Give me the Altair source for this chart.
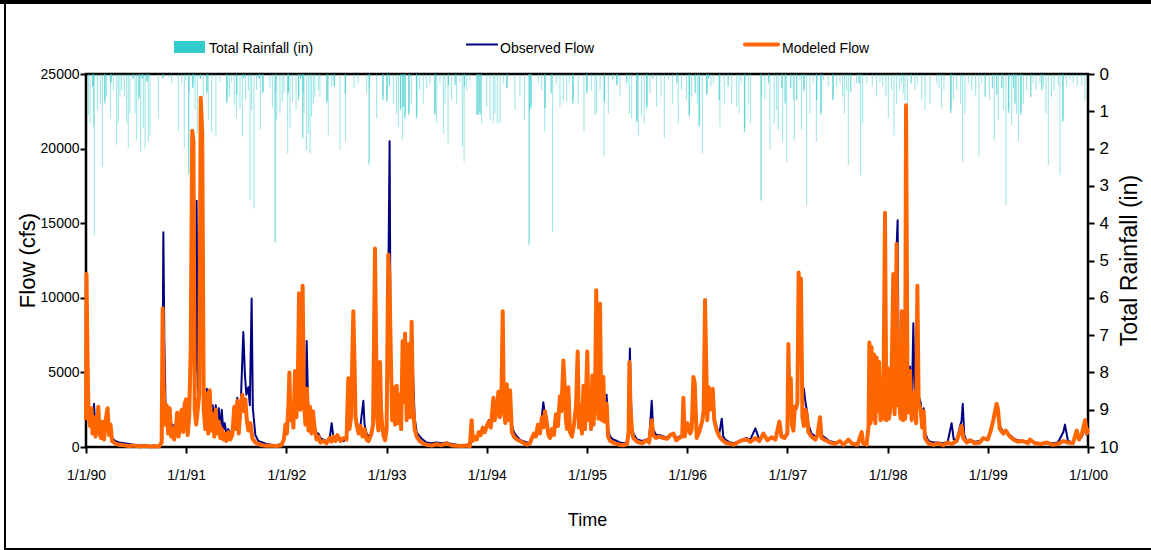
import altair as alt
import pandas as pd

# ---------------- data ----------------
# x values are decimal years
MODELED = [
(1990.000,1800),(1990.005,11600),(1990.015,6000),(1990.025,2200),(1990.040,1400),(1990.055,2600),(1990.065,900),(1990.080,2000),(1990.095,700),(1990.110,1600),(1990.123,2700),(1990.135,900),(1990.150,600),(1990.165,1700),(1990.180,500),(1990.200,2000),(1990.215,2600),(1990.230,800),(1990.245,1500),(1990.260,400),(1990.290,250),(1990.330,150),(1990.380,120),(1990.430,60),(1990.480,100),(1990.530,30),(1990.580,80),(1990.630,40),(1990.680,60),(1990.730,30),(1990.755,300),(1990.765,9300),(1990.775,4000),(1990.790,1500),(1990.805,2800),(1990.820,900),(1990.835,2600),(1990.850,700),(1990.865,1300),(1990.880,500),(1990.895,1100),(1990.910,2300),(1990.925,700),(1990.940,2100),(1990.955,2500),(1990.970,1000),(1990.985,2900),
(1991.000,3200),(1991.015,800),(1991.030,2100),(1991.045,6500),(1991.060,21200),(1991.072,20500),(1991.085,2500),(1991.100,1500),(1991.115,2500),(1991.130,3500),(1991.145,23400),(1991.160,21000),(1991.175,2500),(1991.190,1200),(1991.205,3600),(1991.220,900),(1991.235,3800),(1991.250,1100),(1991.265,2200),(1991.280,700),(1991.295,2500),(1991.310,900),(1991.325,1700),(1991.340,600),(1991.355,1200),(1991.370,500),(1991.385,900),(1991.400,400),(1991.420,1000),(1991.440,500),(1991.460,800),(1991.480,2700),(1991.495,1200),(1991.510,3100),(1991.525,900),(1991.545,2900),(1991.560,3500),(1991.575,2400),(1991.590,3200),(1991.605,1800),(1991.620,1100),(1991.640,1600),(1991.660,600),(1991.690,300),(1991.720,200),(1991.760,120),(1991.800,90),(1991.850,80),(1991.900,60),(1991.950,120),(1991.975,500),(1991.990,1500),
(1992.005,900),(1992.020,2800),(1992.030,5000),(1992.040,1800),(1992.055,2500),(1992.070,1300),(1992.086,5100),(1992.100,2000),(1992.115,4800),(1992.126,10300),(1992.140,2500),(1992.150,4000),(1992.162,10800),(1992.175,3000),(1992.190,1500),(1992.205,3900),(1992.220,1100),(1992.235,2700),(1992.250,900),(1992.265,2400),(1992.280,1300),(1992.300,500),(1992.320,700),(1992.340,300),(1992.370,400),(1992.400,250),(1992.430,600),(1992.450,350),(1992.470,700),(1992.490,400),(1992.510,800),(1992.540,400),(1992.570,600),(1992.600,500),(1992.618,4600),(1992.630,1200),(1992.645,2000),(1992.668,9100),(1992.680,5500),(1992.690,2000),(1992.701,1500),(1992.720,900),(1992.740,1400),(1992.760,700),(1992.780,1200),(1992.800,500),(1992.820,400),(1992.845,800),(1992.865,1500),(1992.884,13300),(1992.895,7000),(1992.905,2000),(1992.918,1100),(1992.934,5700),(1992.945,2500),(1992.955,1500),(1992.968,800),(1992.985,450),
(1993.000,1200),(1993.017,12900),(1993.028,11500),(1993.040,6900),(1993.055,1800),(1993.070,4000),(1993.085,1500),(1993.101,4100),(1993.115,1600),(1993.130,3500),(1993.145,1200),(1993.160,7100),(1993.172,3000),(1993.184,7600),(1993.200,1800),(1993.212,3000),(1993.224,6900),(1993.237,2000),(1993.250,8400),(1993.262,2900),(1993.280,1200),(1993.300,700),(1993.330,400),(1993.360,250),(1993.400,150),(1993.450,100),(1993.500,180),(1993.550,120),(1993.600,250),(1993.650,100),(1993.700,80),(1993.750,60),(1993.800,100),(1993.830,50),(1993.849,1800),(1993.860,400),(1993.880,700),(1993.900,500),(1993.920,1000),(1993.940,800),(1993.960,1300),(1993.980,1000),
(1994.000,1400),(1994.020,1700),(1994.040,1300),(1994.066,3300),(1994.080,1800),(1994.100,2500),(1994.116,3700),(1994.130,2000),(1994.145,3000),(1994.159,9100),(1994.170,2500),(1994.185,1600),(1994.199,4200),(1994.215,1800),(1994.232,3800),(1994.250,1000),(1994.270,700),(1994.300,500),(1994.330,400),(1994.360,300),(1994.400,150),(1994.431,250),(1994.450,600),(1994.470,900),(1994.490,700),(1994.510,1500),(1994.530,900),(1994.550,2000),(1994.564,1300),(1994.580,2400),(1994.600,1600),(1994.615,800),(1994.631,600),(1994.650,1200),(1994.670,800),(1994.690,2200),(1994.710,1400),(1994.730,3400),(1994.745,2400),(1994.764,5800),(1994.778,4000),(1994.790,1800),(1994.800,1200),(1994.814,4000),(1994.830,1000),(1994.850,700),(1994.870,1500),(1994.890,2700),(1994.907,6400),(1994.920,1300),(1994.935,2800),(1994.950,900),(1994.965,4100),(1994.980,1200),
(1995.003,6400),(1995.015,1800),(1995.030,3500),(1995.040,1200),(1995.053,4800),(1995.065,1500),(1995.080,3000),(1995.092,10500),(1995.105,6000),(1995.115,1900),(1995.130,9600),(1995.140,3500),(1995.150,1800),(1995.163,4700),(1995.175,1700),(1995.185,2500),(1995.196,2900),(1995.210,700),(1995.230,400),(1995.260,300),(1995.300,200),(1995.330,150),(1995.360,120),(1995.400,200),(1995.415,1000),(1995.423,5700),(1995.435,2500),(1995.450,1000),(1995.463,600),(1995.500,350),(1995.550,250),(1995.596,450),(1995.620,300),(1995.646,1800),(1995.660,800),(1995.690,600),(1995.720,700),(1995.763,600),(1995.800,550),(1995.830,800),(1995.863,900),(1995.890,450),(1995.920,600),(1995.950,700),(1995.962,3300),(1995.975,700),
(1996.002,1600),(1996.030,900),(1996.045,1200),(1996.062,4700),(1996.075,4300),(1996.095,600),(1996.120,1000),(1996.140,1500),(1996.152,1800),(1996.165,2500),(1996.178,9850),(1996.190,5500),(1996.200,1800),(1996.215,4000),(1996.228,2500),(1996.242,3500),(1996.255,3900),(1996.270,1800),(1996.295,1100),(1996.320,700),(1996.345,500),(1996.380,300),(1996.430,200),(1996.470,150),(1996.500,300),(1996.550,450),(1996.595,500),(1996.630,350),(1996.680,600),(1996.720,400),(1996.760,900),(1996.800,450),(1996.840,650),(1996.880,500),(1996.920,1700),(1996.940,700),(1996.970,600),
(1997.000,900),(1997.010,6900),(1997.022,2000),(1997.033,4600),(1997.045,1500),(1997.060,1100),(1997.075,2700),(1997.086,2600),(1997.100,3000),(1997.112,11700),(1997.122,10000),(1997.135,11300),(1997.150,2000),(1997.165,1400),(1997.180,2500),(1997.193,2200),(1997.210,1000),(1997.240,700),(1997.260,600),(1997.280,500),(1997.300,800),(1997.326,2000),(1997.340,600),(1997.380,450),(1997.425,300),(1997.470,200),(1997.525,400),(1997.560,150),(1997.608,500),(1997.650,200),(1997.700,150),(1997.741,1000),(1997.755,250),(1997.790,150),(1997.810,1400),(1997.818,7000),(1997.830,1600),(1997.840,6700),(1997.852,1900),(1997.865,6200),(1997.878,1600),(1997.890,6000),(1997.905,2400),(1997.915,5700),(1997.930,1800),(1997.945,4500),(1997.957,1900),(1997.974,15700),(1997.988,1800),
(1998.000,5300),(1998.014,1900),(1998.035,3000),(1998.057,11600),(1998.070,2200),(1998.090,13600),(1998.100,2800),(1998.112,3200),(1998.130,1900),(1998.141,9100),(1998.155,1800),(1998.165,8700),(1998.175,1900),(1998.184,22900),(1998.200,2300),(1998.215,4000),(1998.224,5100),(1998.240,1800),(1998.255,2900),(1998.270,3700),(1998.285,1600),(1998.297,10800),(1998.310,2900),(1998.330,2500),(1998.345,1300),(1998.360,2400),(1998.373,600),(1998.400,300),(1998.423,200),(1998.460,150),(1998.500,250),(1998.556,120),(1998.600,300),(1998.639,200),(1998.689,400),(1998.739,1400),(1998.755,600),(1998.790,300),(1998.822,450),(1998.870,250),(1998.920,300),(1998.955,600),
(1999.000,500),(1999.030,1100),(1999.055,1800),(1999.088,2900),(1999.100,2600),(1999.120,1200),(1999.155,900),(1999.180,1100),(1999.220,700),(1999.255,500),(1999.300,350),(1999.350,400),(1999.400,250),(1999.421,500),(1999.470,250),(1999.530,200),(1999.588,300),(1999.650,150),(1999.700,200),(1999.754,400),(1999.800,300),(1999.850,250),(1999.888,1100),(1999.910,500),(1999.940,900),(1999.971,1800),(1999.988,900),(2000.000,1300),
]

OBSERVED = [
(1990.000,2200),(1990.008,5300),(1990.020,3000),(1990.035,2400),(1990.050,2500),(1990.065,1300),(1990.080,2900),(1990.095,1000),(1990.110,1700),(1990.123,2300),(1990.135,1200),(1990.150,800),(1990.165,1600),(1990.180,700),(1990.200,1800),(1990.215,2300),(1990.230,1000),(1990.245,1300),(1990.260,600),(1990.290,400),(1990.330,300),(1990.380,250),(1990.430,200),(1990.480,150),(1990.530,120),(1990.580,100),(1990.630,80),(1990.680,70),(1990.730,60),(1990.760,500),(1990.772,14400),(1990.782,7000),(1990.795,2500),(1990.805,2600),(1990.820,1500),(1990.835,2400),(1990.850,1200),(1990.865,1500),(1990.880,900),(1990.895,1300),(1990.910,2100),(1990.925,1000),(1990.940,1900),(1990.955,2300),(1990.970,1300),(1990.985,2600),
(1991.000,3000),(1991.015,1200),(1991.030,2000),(1991.045,5800),(1991.060,15000),(1991.075,8000),(1991.092,5000),(1991.104,16500),(1991.115,4000),(1991.130,3200),(1991.140,12000),(1991.152,22000),(1991.165,18000),(1991.178,3000),(1991.190,2000),(1991.205,3900),(1991.220,1500),(1991.235,3500),(1991.250,1600),(1991.265,2800),(1991.280,1400),(1991.295,2800),(1991.310,1500),(1991.325,2600),(1991.340,1200),(1991.355,2500),(1991.370,1100),(1991.385,1600),(1991.400,900),(1991.420,1200),(1991.440,900),(1991.460,1100),(1991.480,2500),(1991.495,2000),(1991.510,3300),(1991.525,2000),(1991.545,3000),(1991.570,7700),(1991.585,5000),(1991.600,3500),(1991.620,4000),(1991.635,2800),(1991.653,9950),(1991.665,2600),(1991.690,800),(1991.720,400),(1991.760,300),(1991.800,200),(1991.850,150),(1991.900,120),(1991.950,200),(1991.975,400),(1991.990,1200),
(1992.005,1200),(1992.020,2600),(1992.030,4600),(1992.040,2200),(1992.055,2400),(1992.070,1800),(1992.086,4800),(1992.100,2500),(1992.115,4500),(1992.126,9500),(1992.140,3000),(1992.150,4200),(1992.162,9800),(1992.175,3500),(1992.190,2500),(1992.202,7100),(1992.220,2000),(1992.235,2600),(1992.250,1500),(1992.265,2300),(1992.280,1500),(1992.300,900),(1992.320,900),(1992.340,600),(1992.370,500),(1992.400,400),(1992.430,500),(1992.452,1600),(1992.470,600),(1992.490,500),(1992.510,500),(1992.540,600),(1992.570,400),(1992.600,500),(1992.618,4300),(1992.630,1500),(1992.645,1900),(1992.668,8500),(1992.680,5000),(1992.690,2200),(1992.701,1700),(1992.720,1200),(1992.740,1500),(1992.768,3100),(1992.780,1500),(1992.800,900),(1992.820,700),(1992.845,900),(1992.865,1500),(1992.884,12500),(1992.895,6500),(1992.905,2200),(1992.918,1500),(1992.934,5300),(1992.945,2600),(1992.955,1700),(1992.968,1000),(1992.985,700),
(1993.000,1300),(1993.017,11000),(1993.030,20500),(1993.040,6000),(1993.055,2000),(1993.070,3800),(1993.085,1800),(1993.101,3900),(1993.115,1900),(1993.130,3400),(1993.145,1500),(1993.160,6800),(1993.172,3200),(1993.184,7200),(1993.200,2200),(1993.212,3200),(1993.224,6600),(1993.237,2400),(1993.250,7000),(1993.262,5200),(1993.280,2000),(1993.300,1000),(1993.330,700),(1993.360,500),(1993.400,300),(1993.450,250),(1993.500,300),(1993.550,250),(1993.600,300),(1993.650,200),(1993.700,150),(1993.750,120),(1993.800,150),(1993.830,200),(1993.849,900),(1993.860,400),(1993.880,500),(1993.900,600),(1993.920,800),(1993.940,900),(1993.960,1100),(1993.980,1200),
(1994.000,1500),(1994.020,1800),(1994.040,1600),(1994.066,3000),(1994.080,2000),(1994.100,2600),(1994.116,3500),(1994.130,2200),(1994.145,3200),(1994.159,8000),(1994.170,3000),(1994.185,2000),(1994.199,4000),(1994.215,2200),(1994.232,3600),(1994.250,1500),(1994.270,1000),(1994.300,700),(1994.330,500),(1994.360,400),(1994.400,300),(1994.431,300),(1994.450,500),(1994.470,800),(1994.490,700),(1994.510,1300),(1994.530,1000),(1994.550,2100),(1994.564,3000),(1994.580,2200),(1994.600,1700),(1994.615,1000),(1994.631,800),(1994.650,1000),(1994.670,900),(1994.690,1600),(1994.710,1500),(1994.730,3000),(1994.745,2500),(1994.764,5000),(1994.778,4200),(1994.790,2000),(1994.800,1500),(1994.814,3700),(1994.830,1300),(1994.850,1000),(1994.870,1500),(1994.890,2500),(1994.907,6000),(1994.920,1800),(1994.935,2600),(1994.950,1300),(1994.965,3800),(1994.980,1500),
(1995.003,6000),(1995.015,2200),(1995.030,3300),(1995.040,1600),(1995.053,4500),(1995.065,1900),(1995.080,2900),(1995.092,9800),(1995.105,6000),(1995.115,2200),(1995.130,9000),(1995.140,3800),(1995.150,2500),(1995.163,4500),(1995.175,2300),(1995.185,2600),(1995.196,3500),(1995.210,1200),(1995.230,700),(1995.260,500),(1995.300,400),(1995.330,300),(1995.360,250),(1995.400,300),(1995.415,1100),(1995.428,6600),(1995.440,3000),(1995.450,1300),(1995.463,900),(1995.500,500),(1995.550,400),(1995.596,500),(1995.620,500),(1995.646,3100),(1995.660,1200),(1995.690,800),(1995.720,800),(1995.763,700),(1995.800,650),(1995.830,800),(1995.863,900),(1995.890,600),(1995.920,700),(1995.950,800),(1995.962,3000),(1995.975,900),
(1996.002,1500),(1996.030,1000),(1996.045,1200),(1996.062,4500),(1996.075,4000),(1996.095,900),(1996.120,1100),(1996.140,1600),(1996.152,1900),(1996.165,2500),(1996.178,9300),(1996.190,5000),(1996.200,2000),(1996.215,3800),(1996.228,2600),(1996.242,3300),(1996.255,3700),(1996.270,2000),(1996.295,1300),(1996.320,900),(1996.345,1900),(1996.360,700),(1996.380,500),(1996.430,300),(1996.470,250),(1996.500,350),(1996.550,500),(1996.595,600),(1996.630,500),(1996.680,1250),(1996.720,500),(1996.760,800),(1996.800,500),(1996.840,600),(1996.880,500),(1996.920,1500),(1996.940,800),(1996.970,700),
(1997.000,1000),(1997.010,6500),(1997.022,2200),(1997.033,4300),(1997.045,1800),(1997.060,1500),(1997.075,2600),(1997.086,2600),(1997.100,3000),(1997.112,11000),(1997.122,9500),(1997.135,10500),(1997.150,4000),(1997.165,3900),(1997.180,3000),(1997.193,2500),(1997.210,1500),(1997.240,900),(1997.260,800),(1997.280,700),(1997.300,800),(1997.326,1800),(1997.340,800),(1997.380,600),(1997.420,400),(1997.470,300),(1997.525,350),(1997.560,250),(1997.608,400),(1997.650,250),(1997.700,200),(1997.741,700),(1997.755,300),(1997.790,250),(1997.810,1300),(1997.818,6500),(1997.830,1800),(1997.840,6300),(1997.852,2000),(1997.865,5800),(1997.878,1800),(1997.890,5600),(1997.905,2600),(1997.915,5400),(1997.930,2000),(1997.945,4300),(1997.957,2200),(1997.974,14500),(1997.988,2000),
(1998.000,5000),(1998.014,2200),(1998.035,3200),(1998.057,11000),(1998.070,2500),(1998.085,12500),(1998.100,15200),(1998.112,3600),(1998.130,2200),(1998.141,8500),(1998.155,2200),(1998.165,8200),(1998.175,2200),(1998.184,21000),(1998.200,3000),(1998.215,4200),(1998.224,5400),(1998.240,2400),(1998.257,8300),(1998.270,3900),(1998.290,2000),(1998.297,9500),(1998.310,3400),(1998.330,3000),(1998.345,1800),(1998.360,2600),(1998.373,1000),(1998.400,500),(1998.423,350),(1998.460,300),(1998.500,300),(1998.556,250),(1998.600,350),(1998.639,1600),(1998.660,500),(1998.689,500),(1998.739,1800),(1998.750,2900),(1998.765,800),(1998.790,400),(1998.822,500),(1998.870,350),(1998.920,400),(1998.955,600),
(1999.000,600),(1999.030,1200),(1999.055,1900),(1999.088,2800),(1999.100,2500),(1999.120,1400),(1999.155,1000),(1999.180,1100),(1999.220,800),(1999.255,600),(1999.300,450),(1999.350,400),(1999.400,350),(1999.421,450),(1999.470,300),(1999.530,250),(1999.588,300),(1999.650,250),(1999.700,300),(1999.754,1000),(1999.770,1500),(1999.800,400),(1999.850,300),(1999.888,800),(1999.910,500),(1999.940,700),(1999.971,1300),(1999.988,800),(2000.000,1000),
]

RAIN = [
(1990.023,1.10),(1990.040,1.32),(1990.066,0.34),(1990.069,0.34),(1990.072,0.30),(1990.075,1.43),(1990.083,4.32),(1990.113,0.97),(1990.146,0.79),(1990.163,2.49),(1990.186,0.81),(1990.189,0.75),(1990.192,0.70),(1990.206,0.61),(1990.243,1.19),(1990.246,0.25),(1990.249,0.25),(1990.252,0.20),(1990.273,0.43),(1990.306,1.90),(1990.323,1.32),(1990.339,0.61),(1990.356,0.43),(1990.382,0.61),(1990.406,1.32),(1990.422,1.99),(1990.439,1.06),(1990.466,0.12),(1990.469,0.12),(1990.472,0.10),(1990.489,1.06),(1990.506,1.77),(1990.526,0.70),(1990.529,0.65),(1990.532,0.60),(1990.546,2.08),(1990.559,0.12),(1990.562,0.12),(1990.565,0.10),(1990.572,1.46),(1990.589,1.99),(1990.605,0.21),(1990.608,0.21),(1990.611,0.18),(1990.622,1.82),(1990.639,1.64),(1990.722,1.19),(1990.765,0.12),(1990.768,0.12),(1990.771,0.10),(1990.832,0.10),(1990.855,0.25),(1990.921,1.55),(1990.955,0.25),(1990.981,1.99),(1990.998,0.16),
(1991.024,2.71),(1991.027,2.65),(1991.030,0.50),(1991.064,0.38),(1991.067,0.38),(1991.070,0.30),(1991.088,0.97),(1991.111,1.59),(1991.138,0.12),(1991.141,0.12),(1991.144,0.12),(1991.171,0.61),(1991.204,0.52),(1991.207,0.50),(1991.210,0.45),(1991.221,1.23),(1991.254,1.55),(1991.297,1.68),(1991.337,0.21),(1991.404,0.79),(1991.407,0.75),(1991.410,0.70),(1991.430,0.61),(1991.454,0.21),(1991.480,0.83),(1991.501,1.19),(1991.504,0.56),(1991.507,0.56),(1991.537,0.92),(1991.560,1.68),(1991.570,0.12),(1991.573,0.12),(1991.576,0.10),(1991.593,0.70),(1991.620,0.43),(1991.637,3.38),(1991.653,0.97),(1991.677,3.60),(1991.703,0.43),(1991.726,0.12),(1991.729,0.12),(1991.732,0.10),(1991.740,1.50),(1991.763,0.52),(1991.766,0.50),(1991.769,0.45),(1991.836,0.38),(1991.860,0.92),(1991.886,4.53),(1991.889,4.50),(1991.892,0.50),(1991.903,1.23),(1991.936,1.06),(1991.959,0.74),(1991.976,0.52),
(1992.013,2.13),(1992.016,0.52),(1992.019,0.52),(1992.022,0.45),(1992.036,1.46),(1992.062,0.74),(1992.096,0.97),(1992.119,0.70),(1992.122,0.68),(1992.125,0.60),(1992.142,0.12),(1992.145,0.12),(1992.162,1.74),(1992.165,1.70),(1992.168,0.50),(1992.176,1.06),(1992.202,2.04),(1992.219,1.59),(1992.236,2.13),(1992.252,1.14),(1992.269,0.79),(1992.285,0.61),(1992.319,0.43),(1992.335,0.61),(1992.402,0.79),(1992.405,0.75),(1992.408,0.70),(1992.418,1.64),(1992.452,0.34),(1992.475,0.34),(1992.478,0.34),(1992.481,0.30),(1992.535,2.04),(1992.585,0.52),(1992.588,0.52),(1992.591,1.82),(1992.675,0.38),(1992.718,0.25),(1992.801,0.52),(1992.824,2.44),(1992.827,2.40),(1992.830,0.40),(1992.901,1.19),(1992.961,0.70),(1992.964,0.70),(1992.967,0.60),
(1993.001,0.74),(1993.004,0.74),(1993.007,0.65),(1993.027,0.30),(1993.030,0.30),(1993.067,0.79),(1993.100,1.06),(1993.117,1.41),(1993.137,0.97),(1993.140,0.97),(1993.143,0.90),(1993.160,1.77),(1993.164,0.88),(1993.167,0.88),(1993.181,1.19),(1993.184,1.19),(1993.187,1.10),(1993.220,1.10),(1993.223,1.10),(1993.226,1.00),(1993.250,0.79),(1993.297,1.19),(1993.300,1.19),(1993.303,1.10),(1993.327,0.43),(1993.366,0.79),(1993.400,0.38),(1993.433,0.25),(1993.480,1.10),(1993.483,1.10),(1993.486,1.00),(1993.500,1.32),(1993.533,0.25),(1993.566,1.59),(1993.583,0.79),(1993.613,1.86),(1993.616,0.30),(1993.619,0.30),(1993.649,0.70),(1993.683,0.30),(1993.686,0.30),(1993.699,0.79),(1993.732,0.21),(1993.756,1.95),(1993.773,2.35),(1993.776,0.34),(1993.779,0.34),(1993.799,0.43),(1993.832,0.16),(1993.899,1.10),(1993.905,1.10),(1993.912,1.05),(1993.919,1.10),(1993.926,1.00),(1993.933,1.10),(1993.939,1.05),(1993.949,1.32),(1993.999,0.88),
(1994.032,1.23),(1994.065,1.32),(1994.082,1.06),(1994.105,1.32),(1994.132,1.32),(1994.165,0.25),(1994.198,0.38),(1994.201,0.38),(1994.204,0.35),(1994.281,0.97),(1994.331,0.61),(1994.375,1.23),(1994.421,4.59),(1994.424,4.55),(1994.427,1.00),(1994.438,0.92),(1994.441,0.92),(1994.444,0.85),(1994.514,0.25),(1994.547,0.43),(1994.578,1.55),(1994.581,0.92),(1994.584,0.92),(1994.641,0.52),(1994.644,0.52),(1994.657,4.23),(1994.697,0.25),(1994.730,0.88),(1994.764,0.70),(1994.797,0.74),(1994.824,0.25),(1994.857,0.79),(1994.860,0.79),(1994.863,0.70),(1994.913,0.79),(1994.970,1.55),(1994.997,0.52),
(1995.000,0.52),(1995.003,0.45),(1995.046,0.43),(1995.080,1.10),(1995.096,1.06),(1995.130,0.43),(1995.170,2.22),(1995.173,0.74),(1995.176,0.74),(1995.213,1.06),(1995.256,0.16),(1995.259,0.16),(1995.296,0.30),(1995.299,0.30),(1995.302,0.25),(1995.329,0.61),(1995.396,0.25),(1995.399,0.25),(1995.422,1.06),(1995.446,1.19),(1995.496,1.28),(1995.499,1.28),(1995.502,1.20),(1995.512,1.64),(1995.545,1.14),(1995.572,1.32),(1995.595,0.92),(1995.598,0.92),(1995.601,0.85),(1995.629,0.52),(1995.655,0.12),(1995.658,0.12),(1995.695,0.88),(1995.738,0.61),(1995.772,1.73),(1995.812,0.16),(1995.855,0.79),(1995.895,0.25),(1995.898,0.25),(1995.911,1.32),(1995.945,0.43),(1995.994,0.70),
(1996.018,1.14),(1996.021,1.14),(1996.024,1.05),(1996.044,0.61),(1996.078,0.50),(1996.081,0.50),(1996.101,0.79),(1996.118,1.41),(1996.121,1.41),(1996.124,1.30),(1996.151,2.13),(1996.194,0.56),(1996.197,0.56),(1996.200,0.50),(1996.211,0.12),(1996.214,0.12),(1996.237,0.34),(1996.261,0.25),(1996.318,0.70),(1996.321,0.70),(1996.327,1.41),(1996.370,0.79),(1996.407,0.34),(1996.410,0.34),(1996.444,0.79),(1996.494,0.88),(1996.517,1.06),(1996.537,0.25),(1996.570,1.56),(1996.573,1.56),(1996.576,1.45),(1996.610,0.79),(1996.633,1.32),(1996.736,3.40),(1996.739,3.38),(1996.742,0.60),(1996.776,0.70),(1996.810,0.25),(1996.813,0.25),(1996.826,2.04),(1996.869,1.32),(1996.893,0.97),(1996.909,1.50),(1996.943,0.38),(1996.946,0.38),(1996.953,1.82),(1996.976,0.79),(1996.979,0.79),(1996.993,2.35),
(1997.032,0.38),(1997.035,0.38),(1997.059,0.70),(1997.069,1.77),(1997.092,0.70),(1997.095,0.70),(1997.126,0.16),(1997.142,1.50),(1997.162,0.47),(1997.165,0.47),(1997.168,0.40),(1997.192,3.52),(1997.225,1.06),(1997.259,0.25),(1997.289,1.82),(1997.292,0.70),(1997.295,0.70),(1997.332,1.10),(1997.335,1.10),(1997.338,1.00),(1997.358,0.16),(1997.408,0.34),(1997.452,0.70),(1997.455,0.70),(1997.458,0.65),(1997.492,0.34),(1997.525,0.25),(1997.551,0.61),(1997.568,1.06),(1997.591,0.43),(1997.608,2.44),(1997.631,0.47),(1997.634,0.47),(1997.691,0.25),(1997.714,0.25),(1997.717,0.25),(1997.731,2.71),(1997.751,1.32),(1997.791,0.25),(1997.847,0.34),(1997.891,0.61),(1997.924,0.25),(1997.951,0.34),(1997.984,0.61),
(1998.007,1.19),(1998.040,0.43),(1998.064,1.64),(1998.090,0.79),(1998.117,0.43),(1998.140,0.25),(1998.157,0.52),(1998.173,0.70),(1998.197,1.41),(1998.233,0.25),(1998.236,0.25),(1998.273,0.43),(1998.297,0.25),(1998.340,0.70),(1998.373,0.97),(1998.423,0.79),(1998.490,0.25),(1998.513,0.38),(1998.539,0.92),(1998.563,0.43),(1998.629,1.04),(1998.632,1.04),(1998.635,0.95),(1998.656,0.70),(1998.689,0.43),(1998.729,0.79),(1998.749,2.35),(1998.772,1.06),(1998.806,0.25),(1998.839,0.43),(1998.879,0.61),(1998.912,2.22),(1998.939,0.25),(1998.972,0.61),(1998.975,0.61),
(1999.015,0.70),(1999.045,0.38),(1999.048,0.38),(1999.065,1.77),(1999.088,0.56),(1999.091,0.56),(1999.105,1.23),(1999.138,0.38),(1999.141,0.38),(1999.155,0.97),(1999.181,3.52),(1999.205,1.04),(1999.208,1.04),(1999.211,0.95),(1999.238,1.37),(1999.255,0.38),(1999.258,0.38),(1999.271,0.79),(1999.274,0.79),(1999.288,1.06),(1999.305,1.82),(1999.328,1.10),(1999.331,1.10),(1999.334,1.00),(1999.355,0.79),(1999.388,0.43),(1999.428,0.61),(1999.431,0.61),(1999.454,0.25),(1999.481,0.43),(1999.521,0.25),(1999.537,0.43),(1999.540,0.43),(1999.554,0.34),(1999.581,1.06),(1999.604,2.44),(1999.637,0.61),(1999.661,0.43),(1999.704,0.30),(1999.720,2.71),(1999.747,1.28),(1999.750,1.28),(1999.753,1.20),(1999.787,0.34),(1999.820,0.16),(1999.853,0.25),(1999.893,0.34),(1999.937,0.30),(1999.970,0.70),
]

YEAR_TICKS = list(range(1990, 2001))
FLOW_TICKS = [0, 5000, 10000, 15000, 20000, 25000]
RAIN_TICKS = list(range(0, 11))

LEGEND_LABELS = ["Total Rainfall (in)", "Observed Flow", "Modeled Flow"]

# ---------------- styling ----------------
FONT = "Liberation Sans, Arial"
RAIN_C = "#33CCCC"
OBS_C = "#000080"
MOD_C = "#FF6600"
W, H = 1002, 373

obs_df = pd.DataFrame(OBSERVED, columns=["t", "flow"])
mod_df = pd.DataFrame(MODELED, columns=["t", "flow"])
rain_df = pd.DataFrame(RAIN, columns=["t", "rain"])
one = pd.DataFrame({"k": [0]})

xscale = alt.Scale(domain=[1990, 2000], nice=False, zero=False)
x_axis = alt.Axis(
    values=YEAR_TICKS,
    labelExpr="'1/1/' + slice(toString(datum.value), 2)",
    title="Time", grid=False, domain=False,
    tickSize=6, tickWidth=2, tickColor="black",
    labelFont=FONT, labelFontSize=14, labelColor="black", labelPadding=15,
    labelFlush=False, labelOverlap=False,
    titleFont=FONT, titleFontSize=18, titleFontWeight="normal", titleColor="black",
    titleX=501, titleY=73, titleBaseline="middle", titleAlign="center",
)
flow_axis = alt.Axis(
    values=FLOW_TICKS, format="d", orient="left", title="Flow (cfs)", grid=False, domain=False,
    tickSize=6, tickWidth=2, tickColor="black",
    labelFont=FONT, labelFontSize=14, labelColor="black", labelPadding=1,
    titleFont=FONT, titleFontSize=22, titleFontWeight="normal", titleColor="black",
    titleAngle=270, titleX=-59, titleY=186, titleAlign="center", titleBaseline="middle",
)
rain_axis = alt.Axis(
    values=RAIN_TICKS, orient="right", title="Total Rainfall (in)", grid=False, domain=False,
    tickSize=6, tickWidth=2, tickColor="black",
    labelFont=FONT, labelFontSize=17, labelColor="black", labelPadding=5,
    titleFont=FONT, titleFontSize=23, titleFontWeight="normal", titleColor="black",
    titleAngle=270, titleX=41, titleY=186, titleAlign="center", titleBaseline="middle",
)
flow_scale = alt.Scale(domain=[0, 25000], nice=False)

rain = alt.Chart(rain_df).mark_rule(color=RAIN_C, strokeWidth=1, opacity=0.5).encode(
    x=alt.X("t:Q", scale=xscale, axis=x_axis),
    y=alt.Y("rain:Q", scale=alt.Scale(domain=[0, 10], reverse=True, nice=False), axis=rain_axis),
    y2=alt.datum(0),
)
observed = alt.Chart(obs_df).mark_line(color=OBS_C, strokeWidth=2, strokeJoin="round").encode(
    x=alt.X("t:Q", scale=xscale, axis=x_axis),
    y=alt.Y("flow:Q", scale=flow_scale, axis=flow_axis),
)
modeled = alt.Chart(mod_df).mark_line(color=MOD_C, strokeWidth=4, strokeJoin="round").encode(
    x=alt.X("t:Q", scale=xscale, axis=x_axis),
    y=alt.Y("flow:Q", scale=flow_scale, axis=flow_axis),
)
flows = alt.layer(observed, modeled)

# legend (drawn by hand above the plot)
leg_rain_sw = alt.Chart(one).mark_rect(color=RAIN_C).encode(
    x=alt.value(88), x2=alt.value(119), y=alt.value(-33), y2=alt.value(-21))
leg_obs_sw = alt.Chart(one).mark_rule(color=OBS_C, strokeWidth=2).encode(
    x=alt.value(380), x2=alt.value(412), y=alt.value(-29.5))
leg_mod_sw = alt.Chart(one).mark_rule(color=MOD_C, strokeWidth=4, strokeCap="round").encode(
    x=alt.value(659), x2=alt.value(692), y=alt.value(-29.5))

def leg_text(label, xpos):
    return alt.Chart(one).mark_text(
        font=FONT, fontSize=14, color="black", align="left", baseline="alphabetic"
    ).encode(x=alt.value(xpos), y=alt.value(-21), text=alt.value(label))

legend = alt.layer(
    leg_rain_sw, leg_obs_sw, leg_mod_sw,
    leg_text(LEGEND_LABELS[0], 123),
    leg_text(LEGEND_LABELS[1], 414),
    leg_text(LEGEND_LABELS[2], 696),
)

# outer frame lines
frame_top = alt.Chart(one).mark_rule(color="black", strokeWidth=4).encode(
    x=alt.value(-86), x2=alt.value(1065), y=alt.value(-72))
frame_left = alt.Chart(one).mark_rule(color="black", strokeWidth=2).encode(
    x=alt.value(-81), y=alt.value(-74), y2=alt.value(476))
frame_bottom = alt.Chart(one).mark_rule(color="black", strokeWidth=2).encode(
    x=alt.value(-82), x2=alt.value(1065), y=alt.value(475))

chart = alt.layer(
    rain, flows, legend, frame_top, frame_left, frame_bottom
).resolve_scale(y="independent").properties(
    width=W, height=H,
    autosize=alt.AutoSizeParams(type="none"),
    padding={"left": 86, "top": 74, "right": 63, "bottom": 103},
    background="white",
).configure_view(stroke="black", strokeWidth=2.5)

chart.save("out.html", embed_options={"renderer": "svg", "actions": False})
